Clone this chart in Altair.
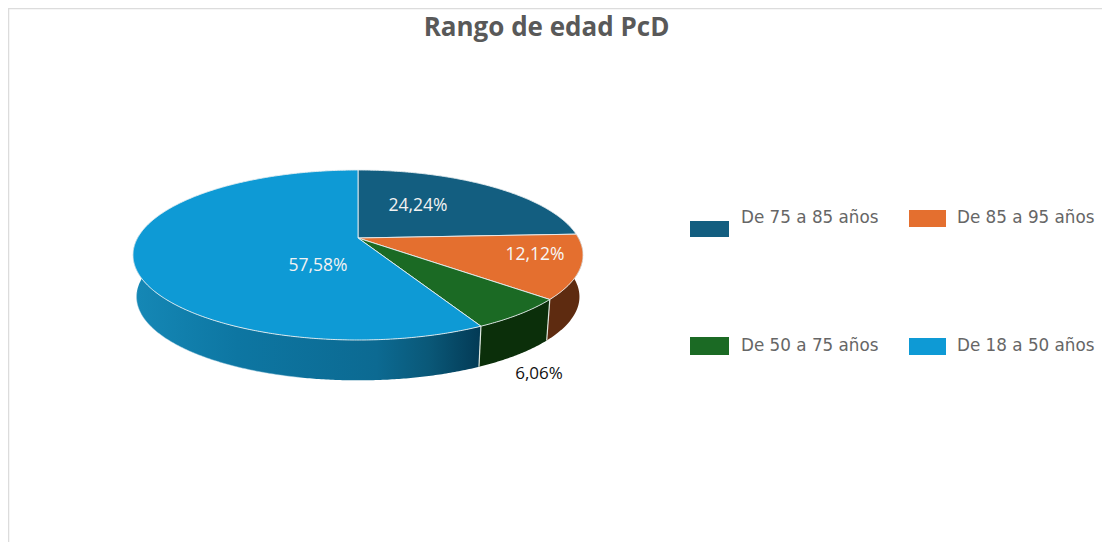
import math
import altair as alt
import pandas as pd

categories = ["De 75 a 85 años", "De 85 a 95 años", "De 50 a 75 años", "De 18 a 50 años"]
shares = [24.24, 12.12, 6.06, 57.58]
share_labels = ["24,24%", "12,12%", "6,06%", "57,58%"]
top_colors = ["#135e80", "#e46f2f", "#1b6a24", "#0e9ad5"]
title_text = "Rango de edad PcD"

X_SCALE = alt.Scale(domain=[8, 1102], range=[0, 1094], nice=False, zero=False)
Y_SCALE = alt.Scale(domain=[8, 542], range=[0, 534], nice=False, zero=False)
CX, CY, RX, RY, K = 358.0, 238.0, 220.5, 81.6, 0.2
WALL_SCALE, WALL_DROP = 0.984, 42.0


def project(deg, wall=False):
    t = math.radians(deg)
    u, v = math.sin(t), -math.cos(t)
    f = 1 / (1 - K * v)
    dx, dy = RX * u * f, RY * v * f
    if wall:
        return CX + WALL_SCALE * dx, CY + WALL_SCALE * dy + WALL_DROP
    return CX + dx, CY + dy


def arc(a0, a1, wall=False, step=0.5):
    n = max(2, int(abs(a1 - a0) / step) + 1)
    return [project(a0 + (a1 - a0) * i / (n - 1), wall) for i in range(n)]


def shape(points, fill, stroke=None, width=1.0):
    df = pd.DataFrame({"x": [p[0] for p in points], "y": [p[1] for p in points],
                       "i": list(range(len(points)))})
    kw = {"stroke": stroke, "strokeWidth": width} if stroke else {"strokeWidth": 0}
    return alt.Chart(df).mark_line(filled=True, fill=fill, clip=False, interpolate="linear", **kw).encode(
        x=alt.X("x:Q", scale=X_SCALE, axis=None),
        y=alt.Y("y:Q", scale=Y_SCALE, axis=None),
        order="i:Q",
    )


def stroke_line(points, color, width=1.0, opacity=1.0):
    df = pd.DataFrame({"x": [p[0] for p in points], "y": [p[1] for p in points],
                       "i": list(range(len(points)))})
    return alt.Chart(df).mark_line(color=color, strokeWidth=width, opacity=opacity).encode(
        x=alt.X("x:Q", scale=X_SCALE, axis=None),
        y=alt.Y("y:Q", scale=Y_SCALE, axis=None),
        order="i:Q",
    )


def text(x, y, s, color, size, font="Open Sans", weight="normal", align="center"):
    df = pd.DataFrame({"x": [x], "y": [y], "t": [s]})
    return alt.Chart(df).mark_text(color=color, fontSize=size, font=font, fontWeight=weight,
                                   align=align, baseline="middle").encode(
        x=alt.X("x:Q", scale=X_SCALE, axis=None),
        y=alt.Y("y:Q", scale=Y_SCALE, axis=None),
        text="t:N",
    )


def swatch(x0, x1, y0, y1, color):
    df = pd.DataFrame({"x": [x0], "x2": [x1], "y": [y0], "y2": [y1]})
    return alt.Chart(df).mark_rect(color=color).encode(
        x=alt.X("x:Q", scale=X_SCALE, axis=None), x2="x2:Q",
        y=alt.Y("y:Q", scale=Y_SCALE, axis=None), y2="y2:Q",
    )


edges = [0.0]
for s in shares:
    edges.append(edges[-1] + s / sum(shares) * 360)

layers = []

# side walls
blue_grad = alt.Gradient(
    gradient="linear", x1=0, x2=1, y1=0, y2=0,
    stops=[alt.GradientStop(offset=0, color="#1588b6"),
           alt.GradientStop(offset=0.3, color="#0d76a2"),
           alt.GradientStop(offset=0.7, color="#0c6a92"),
           alt.GradientStop(offset=0.85, color="#0a5878"),
           alt.GradientStop(offset=1, color="#033a55")])
wall_colors = [None, "#5e2b10", "#0b2f0a", blue_grad]
wall_spans = [None, (edges[1], edges[2]), (edges[2], edges[3]), (edges[3], 272)]
for col, span in zip(wall_colors, wall_spans):
    if span is None:
        continue
    a, b = span
    poly = arc(a, b) + arc(b, a, wall=True)
    poly.append(poly[0])
    layers.append(shape(poly, col))

# wall separators and lower rim
for e in (edges[2], edges[3]):
    layers.append(stroke_line([project(e), project(e, wall=True)], "#dfe8e0", 1.2))
layers.append(stroke_line(arc(edges[3] + 40, 262, wall=True), "#9ecbe0", 0.8, 0.6))

# top faces
for i, col in enumerate(top_colors):
    poly = [(CX, CY)] + arc(edges[i], edges[i + 1]) + [(CX, CY)]
    layers.append(shape(poly, col, "#e8eef0", 0.9))

# data labels
layers.append(text(418, 206, share_labels[0], "#f2f2f2", 17.5))
layers.append(text(535, 255, share_labels[1], "#f7f7f7", 17.5))
layers.append(text(539, 374, share_labels[2], "#111111", 17))
layers.append(text(318, 266, share_labels[3], "#f2f2f2", 17.5))

# title
layers.append(text(546.5, 27.5, title_text, "#595959", 26, font="Open Sans", weight="bold"))

# legend
layers += [
    swatch(690, 729, 221, 237, top_colors[0]),
    swatch(909, 946, 210, 227, top_colors[1]),
    swatch(690, 729, 337, 355, top_colors[2]),
    swatch(909, 946, 338, 355, top_colors[3]),
    text(741, 218, categories[0], "#666666", 16.8, font="DejaVu Sans", align="left"),
    text(957, 218, categories[1], "#666666", 16.8, font="DejaVu Sans", align="left"),
    text(741, 346, categories[2], "#666666", 16.8, font="DejaVu Sans", align="left"),
    text(957, 346, categories[3], "#666666", 16.8, font="DejaVu Sans", align="left"),
]

# outer frame (top and left edges only)
layers.append(alt.Chart(pd.DataFrame({"a": [0]})).mark_rule(color="#dcdcdc", strokeWidth=1.5).encode(
    x=alt.value(0.5), y=alt.value(0), y2=alt.value(534)))
layers.append(alt.Chart(pd.DataFrame({"a": [0]})).mark_rule(color="#dcdcdc", strokeWidth=1.5).encode(
    y=alt.value(0.5), x=alt.value(0), x2=alt.value(1094)))

chart = alt.layer(*layers).properties(
    width=1094, height=534, padding=0, autosize=alt.AutoSizeParams(type="none"), background="white"
).configure_view(stroke=None)

chart.save("out.html", embed_options={"renderer": "svg", "actions": False})
